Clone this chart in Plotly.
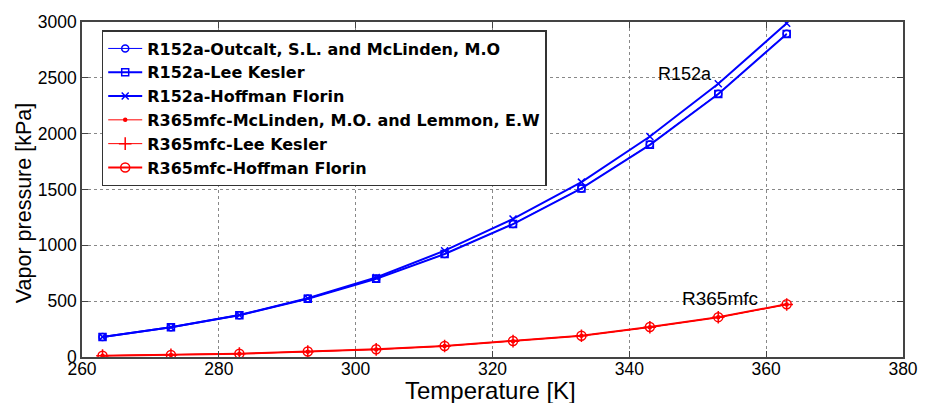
import plotly.graph_objects as go

temperature_K = [263, 273, 283, 293, 303, 313, 323, 333, 343, 353, 363]

r152a_outcalt = [180, 266, 375, 523, 702, 922, 1192, 1510, 1902, 2358, 2895]
r152a_lee_kesler = [179, 266, 374, 522, 700, 922, 1190, 1510, 1900, 2355, 2893]
r152a_hoffman = [180, 267, 376, 526, 712, 952, 1236, 1566, 1975, 2447, 2988]

r365_mclinden = [12, 19, 30, 48, 68, 98, 142, 190, 267, 356, 470]
r365_lee_kesler = [12, 19, 30, 48, 68, 98, 142, 190, 267, 356, 470]
r365_hoffman = [12, 19, 30, 49, 69, 99, 143, 191, 268, 357, 472]

series_names = [
    "R152a-Outcalt, S.L. and McLinden, M.O",
    "R152a-Lee Kesler",
    "R152a-Hoffman Florin",
    "R365mfc-McLinden, M.O. and Lemmon, E.W",
    "R365mfc-Lee Kesler",
    "R365mfc-Hoffman Florin",
]

x_ticks = [260, 280, 300, 320, 340, 360, 380]
y_ticks = [0, 500, 1000, 1500, 2000, 2500, 3000]

BLUE = "#0000ff"
RED = "#ff0000"
FONT = "Liberation Sans"

fig = go.Figure()

styles = [
    (r152a_outcalt, BLUE, 1, "circle-open", 7),
    (r152a_lee_kesler, BLUE, 2, "square-open", 7),
    (r152a_hoffman, BLUE, 2, "x-thin-open", 7),
    (r365_mclinden, RED, 1, "circle", 3),
    (r365_lee_kesler, RED, 1, "cross-thin-open", 9),
    (r365_hoffman, RED, 2, "circle-open", 9),
]

for name, (vals, color, lw, sym, ms) in zip(series_names, styles):
    fig.add_trace(go.Scatter(
        x=temperature_K, y=vals, name=name, mode="lines+markers",
        line=dict(color=color, width=lw),
        marker=dict(symbol=sym, size=ms, color=color,
                    line=dict(color=color, width=1.5)),
    ))

fig.add_annotation(x=348.1, y=2537, text="R152a", showarrow=False,
                   font=dict(size=18, color="black", family=FONT),
                   xanchor="center", yanchor="middle")
fig.add_annotation(x=353.3, y=525, text="R365mfc", showarrow=False,
                   font=dict(size=19, color="black", family=FONT),
                   xanchor="center", yanchor="middle")

# axis titles as annotations for exact placement
fig.add_annotation(x=0.498, y=-0.101, xref="paper", yref="paper",
                   text="Temperature [K]", showarrow=False,
                   font=dict(size=24, color="black", family=FONT),
                   xanchor="center", yanchor="middle")
fig.add_annotation(x=-0.0697, y=0.4585, xref="paper", yref="paper",
                   text="Vapor pressure [kPa]", showarrow=False, textangle=-90,
                   font=dict(size=21.5, color="black", family=FONT),
                   xanchor="center", yanchor="middle")

axis_common = dict(
    showline=True, linecolor="#444444", linewidth=1.5, mirror="ticks",
    ticks="inside", ticklen=6, tickcolor="#444444",
    showgrid=True, gridcolor="#888888", griddash="dot", gridwidth=1,
    zeroline=False,
    tickfont=dict(size=17.5, color="black", family=FONT),
)

fig.update_xaxes(range=[260, 380], tickvals=x_ticks, ticklabelstandoff=-5, **axis_common)
fig.update_yaxes(range=[0, 3000], tickvals=y_ticks, **axis_common)

fig.update_layout(
    width=930, height=403,
    margin=dict(l=82, r=16, t=20, b=46),
    plot_bgcolor="white", paper_bgcolor="white",
    showlegend=True,
    legend=dict(
        x=0.024, y=0.976, xanchor="left", yanchor="top",
        bgcolor="white", bordercolor="#333333", borderwidth=1.5,
        font=dict(size=16, color="black", family="DejaVu Sans", weight="bold"),
        tracegroupgap=0, itemwidth=34,
    ),
)

fig.write_html("out.html")
